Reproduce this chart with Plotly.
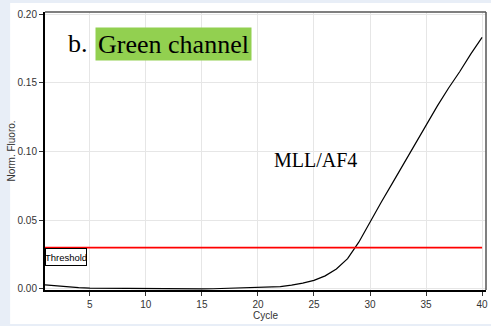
import plotly.graph_objects as go

# Amplification curve, green channel (MLL/AF4)
cycles = list(range(1, 41))
fluoro = [0.0030, 0.0022, 0.0015, 0.0010, 0.0006, 0.0005, 0.0004, 0.0004, 0.0003, 0.0003,
          0.0002, 0.0001, 0.0000, 0.0000, 0.0000, 0.0001, 0.0003, 0.0006, 0.0009, 0.0012,
          0.0014, 0.0016, 0.0028, 0.0042, 0.0062, 0.0095, 0.0145, 0.0220, 0.0340, 0.0490,
          0.0630, 0.0770, 0.0910, 0.1060, 0.1200, 0.1330, 0.1460, 0.1580, 0.1710, 0.1830]
threshold = 0.03
x_ticks = [5, 10, 15, 20, 25, 30, 35, 40]
y_ticks = [0.00, 0.05, 0.10, 0.15, 0.20]

W, H = 491, 326
L, R, T, B = 45, 3, 12, 36
pw, ph = W - L - R, H - T - B

def px_x(p):
    return (p - L) / pw

def px_y(p):
    return (H - B - p) / ph

fig = go.Figure()
fig.add_trace(go.Scatter(x=cycles, y=fluoro, mode="lines",
                         line=dict(color="black", width=1.2), showlegend=False,
                         hoverinfo="skip"))
fig.add_trace(go.Scatter(x=[1, 40], y=[threshold, threshold], mode="lines",
                         line=dict(color="#ff0000", width=1.6), showlegend=False,
                         hoverinfo="skip"))

axis_font = dict(family="Liberation Sans, Arial", size=10, color="#333333")

fig.update_layout(
    width=W, height=H,
    margin=dict(l=L, r=R, t=T, b=B),
    paper_bgcolor="#e8eef7",
    plot_bgcolor="white",
    xaxis=dict(range=[1, 40.35], tickvals=x_ticks, ticks="outside", ticklen=4,
               tickcolor="#333333", tickfont=axis_font, showgrid=True,
               gridcolor="#e6e6e6", gridwidth=1, zeroline=False,
               showline=True, linecolor="black", linewidth=2,
               title=dict(text="Cycle", font=axis_font, standoff=3)),
    yaxis=dict(range=[-0.0008, 0.2015], tickvals=y_ticks, tickformat=".2f",
               ticks="outside", ticklen=4, tickcolor="#333333", tickfont=axis_font,
               showgrid=True, gridcolor="#e6e6e6", gridwidth=1, zeroline=False,
               showline=True, linecolor="black", linewidth=2,
               title=dict(text="Norm. Fluoro.", font=axis_font, standoff=0)),
    shapes=[
        # white panel behind the chart
        dict(type="rect", xref="paper", yref="paper", layer="below",
             x0=px_x(10), x1=px_x(W + 5), y0=px_y(324), y1=px_y(3),
             fillcolor="white", line=dict(width=0)),
        # frame on top and right
        dict(type="line", xref="paper", yref="paper", x0=0, x1=1, y0=1, y1=1,
             line=dict(color="#555555", width=1.5)),
        dict(type="line", xref="paper", yref="paper", x0=1, x1=1, y0=0, y1=1,
             line=dict(color="#555555", width=1.5)),
    ],
    annotations=[
        dict(x=1, y=threshold, xref="x", yref="y", xanchor="left", yanchor="top",
             text="Threshold", showarrow=False, bgcolor="white",
             bordercolor="black", borderwidth=1, borderpad=0, width=40, height=16,
             font=dict(family="Liberation Sans, Arial", size=9.5, color="black")),
        dict(x=px_x(66), y=px_y(44), xref="paper", yref="paper", xanchor="left",
             yanchor="middle", text="b.", showarrow=False,
             font=dict(family="Liberation Serif, Times New Roman", size=26, color="black")),
        dict(x=px_x(95), y=px_y(44), xref="paper", yref="paper", xanchor="left",
             yanchor="middle", text="Green channel", showarrow=False,
             bgcolor="#92d050", borderpad=0, width=155, height=32,
             font=dict(family="Liberation Serif, Times New Roman", size=26, color="black")),
        dict(x=px_x(273), y=px_y(160), xref="paper", yref="paper", xanchor="left",
             yanchor="middle", text="MLL/AF4", showarrow=False,
             font=dict(family="Liberation Serif, Times New Roman", size=20, color="black")),
    ],
)

fig.write_html("out.html")
